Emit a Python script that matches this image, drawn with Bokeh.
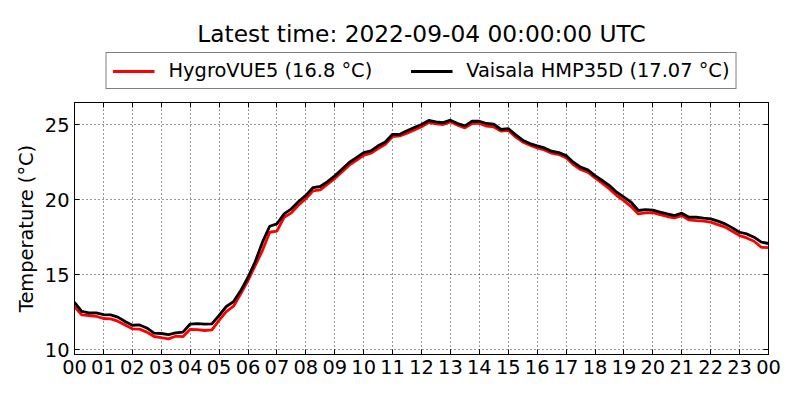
from bokeh.plotting import figure
from bokeh.layouts import column
from bokeh.models import Range1d, FixedTicker, LinearAxis, Legend, LegendItem, Title
from bokeh.embed import file_html
from bokeh.resources import INLINE

title_text = "Latest time: 2022-09-04 00:00:00 UTC"
series_names = ["HygroVUE5", "Vaisala HMP35D"]
series_colors = ["red", "black"]

# sample times (hours since 2022-09-03 00:00 UTC), every 15 minutes
hours = [i * 0.25 for i in range(97)]

hygrovue5 = [
    12.85, 12.31, 12.27, 12.22, 12.07, 12.04, 11.89, 11.64, 11.38, 11.36, 11.16, 10.87,
    10.80, 10.71, 10.89, 10.86, 11.35, 11.33, 11.27, 11.31, 11.95, 12.53, 12.89, 13.71,
    14.60, 15.60, 16.60, 17.82, 17.89, 18.82, 19.11, 19.64, 20.05, 20.58, 20.64, 21.02,
    21.40, 21.84, 22.29, 22.62, 22.95, 23.09, 23.40, 23.69, 24.20, 24.24, 24.42, 24.64,
    24.85, 25.14, 25.04, 25.00, 25.18, 24.96, 24.78, 25.07, 25.09, 24.89, 24.84, 24.56,
    24.62, 24.18, 23.84, 23.62, 23.44, 23.31, 23.09, 23.00, 22.78, 22.33, 22.00, 21.82,
    21.44, 21.09, 20.71, 20.27, 19.93, 19.53, 19.04, 19.11, 19.12, 19.00, 18.87, 18.78,
    18.93, 18.64, 18.60, 18.56, 18.49, 18.33, 18.16, 17.89, 17.60, 17.44, 17.22, 16.82,
    16.80,
]

hmp35d = [
    13.15, 12.55, 12.45, 12.45, 12.33, 12.31, 12.16, 11.87, 11.62, 11.64, 11.44, 11.09,
    11.07, 11.00, 11.11, 11.16, 11.70, 11.73, 11.69, 11.71, 12.27, 12.87, 13.20, 13.93,
    14.82, 15.87, 17.16, 18.22, 18.38, 19.04, 19.38, 19.87, 20.28, 20.80, 20.87, 21.20,
    21.58, 22.02, 22.47, 22.80, 23.13, 23.24, 23.58, 23.84, 24.35, 24.35, 24.58, 24.80,
    25.00, 25.27, 25.18, 25.13, 25.29, 25.07, 24.91, 25.22, 25.22, 25.07, 25.02, 24.67,
    24.73, 24.33, 23.96, 23.73, 23.58, 23.44, 23.22, 23.13, 22.93, 22.49, 22.16, 21.98,
    21.60, 21.27, 20.93, 20.49, 20.16, 19.82, 19.27, 19.33, 19.29, 19.16, 19.04, 18.93,
    19.09, 18.82, 18.82, 18.76, 18.71, 18.56, 18.38, 18.11, 17.82, 17.71, 17.49, 17.16,
    17.07,
]

x_ticks = list(range(25))
x_tick_labels = ["00", "01", "02", "03", "04", "05", "06", "07", "08", "09", "10", "11",
                 "12", "13", "14", "15", "16", "17", "18", "19", "20", "21", "22", "23", "00"]
y_ticks = [10, 15, 20, 25]

FONT = "DejaVu Sans"
FS = "19.4px"

# ---------- header figure: title + legend ----------
head = figure(width=792, height=100, output_backend="svg", toolbar_location=None,
              x_axis_type=None, y_axis_type=None,
              x_range=Range1d(0, 1), y_range=Range1d(0, 1),
              min_border_left=74, min_border_right=24, min_border_top=48, min_border_bottom=0)
head.outline_line_color = None
head.background_fill_color = "white"
head.border_fill_color = "white"
head.xgrid.visible = False
head.ygrid.visible = False
head.title = Title(text=title_text, align="center", text_font=FONT, text_font_size="23.3px",
                   text_font_style="normal", text_color="black", offset=0, standoff=4)

# same series drawn (clipped, outside the header range) only to give the legend its glyphs
lr = head.line(hours, hygrovue5, line_color=series_colors[0], line_width=2.8)
lb = head.line(hours, hmp35d, line_color=series_colors[1], line_width=2.8)

legend = Legend(items=[
    LegendItem(label=f"{series_names[0]} ({hygrovue5[-1]} °C)", renderers=[lr]),
    LegendItem(label=f"{series_names[1]} ({hmp35d[-1]} °C)", renderers=[lb]),
], orientation="horizontal", location="bottom_center")
legend.border_line_color = "black"
legend.border_line_width = 1
legend.background_fill_color = "white"
legend.background_fill_alpha = 1
legend.padding = 6
legend.spacing = 38
legend.label_standoff = 14
legend.glyph_width = 42
legend.glyph_height = 20
legend.label_height = 20
legend.label_text_font = FONT
legend.label_text_font_size = FS
legend.label_text_color = "black"
legend.margin = 11
head.add_layout(legend, "center")

# ---------- main plot ----------
p = figure(width=792, height=292, output_backend="svg", toolbar_location=None,
           x_range=Range1d(0, 24), y_range=Range1d(9.67, 26.47),
           min_border_left=74, min_border_right=24, min_border_bottom=38, min_border_top=2)
p.background_fill_color = "white"
p.border_fill_color = "white"
p.outline_line_color = "black"
p.outline_line_width = 1

p.line(hours, hygrovue5, line_color=series_colors[0], line_width=2.8)
p.line(hours, hmp35d, line_color=series_colors[1], line_width=2.8)

xt = FixedTicker(ticks=x_ticks)
yt = FixedTicker(ticks=y_ticks)
overrides = {float(t): lab for t, lab in zip(x_ticks, x_tick_labels)}

def style_axis(ax, show_labels):
    ax.axis_line_color = "black"
    ax.major_tick_line_color = "black"
    ax.major_tick_in = 5
    ax.major_tick_out = 0
    ax.minor_tick_line_color = None
    ax.major_label_text_font = FONT
    if show_labels:
        ax.major_label_text_color = "black"
        ax.major_label_text_font_size = FS
        ax.major_label_standoff = 5
    else:
        ax.major_label_text_color = None
        ax.major_label_text_font_size = "1px"
        ax.major_label_standoff = 0

xa = p.xaxis[0]
xa.ticker = xt
xa.major_label_overrides = overrides
style_axis(xa, True)

ya = p.yaxis[0]
ya.ticker = yt
style_axis(ya, True)
ya.axis_label = "Temperature (°C)"
ya.axis_label_text_font = FONT
ya.axis_label_text_font_size = FS
ya.axis_label_text_font_style = "normal"
ya.axis_label_text_color = "black"
ya.axis_label_standoff = 4

top_ax = LinearAxis(ticker=xt)
style_axis(top_ax, False)
p.add_layout(top_ax, "above")
right_ax = LinearAxis(ticker=yt)
style_axis(right_ax, False)
p.add_layout(right_ax, "right")

for g, t in ((p.xgrid[0], xt), (p.ygrid[0], yt)):
    g.ticker = t
    g.grid_line_color = "black"
    g.grid_line_dash = "1 3"
    g.grid_line_width = 1
    g.grid_line_alpha = 0.8

layout = column(head, p, spacing=0)
open("out.html", "w").write(file_html(layout, INLINE))
